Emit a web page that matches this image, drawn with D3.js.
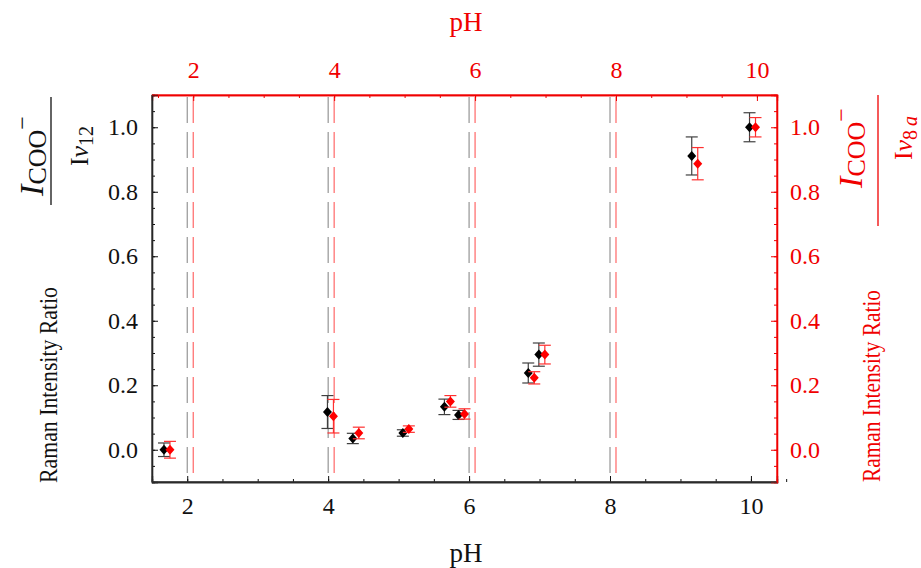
<!DOCTYPE html>
<html>
<head>
<meta charset="utf-8">
<script src="https://cdn.jsdelivr.net/npm/d3@7"></script>
<style>
  html, body { margin: 0; padding: 0; background: #fff; }
  svg { display: block; }
  text { font-family: "Liberation Serif", "Times New Roman", Times, serif; }
</style>
</head>
<body>
<svg id="chart" width="921" height="568"></svg>
<script>
// pH of each measured solution
const pH = [1.67, 3.99, 4.35, 5.06, 5.65, 5.85, 6.84, 6.99, 9.16, 9.98];
// I(COO-) / I(nu12) ratio and its uncertainty (black, left axis)
const ratioNu12 = [0.0, 0.117, 0.035, 0.052, 0.133, 0.108, 0.238, 0.295, 0.911, 1.0];
const errNu12   = [0.021, 0.051, 0.016, 0.010, 0.024, 0.014, 0.031, 0.036, 0.059, 0.045];
// I(COO-) / I(nu8a) ratio and its uncertainty (red, right axis)
const ratioNu8a = [0.0, 0.104, 0.052, 0.064, 0.150, 0.111, 0.223, 0.295, 0.887, 1.0];
const errNu8a   = [0.026, 0.052, 0.018, 0.010, 0.018, 0.016, 0.019, 0.029, 0.050, 0.030];
// axis ticks
const pHTicks = [2, 4, 6, 8, 10];
const pHMinorTicks = d3.range(1.5, 10.51, 0.5);
const ratioTicks = [0.0, 0.2, 0.4, 0.6, 0.8, 1.0];
const ratioMinorTicks = d3.range(-0.1, 1.101, 0.05);
const dashedPH = [2, 4, 6, 8];

const RED = "#f00000";
const BLACK = "#111";
const SERIF = "'Liberation Serif', 'Times New Roman', Times, serif";

const svg = d3.select("#chart");
const L = 152, R = 777, T = 95, B = 482;

// bottom (black) and top (red) pH scales; the red set is drawn slightly offset
const xB = d3.scaleLinear().domain([1.5, 10.37]).range([L, R]);
const xT = d3.scaleLinear().domain([1.415, 10.285]).range([L, R]);
const y = d3.scaleLinear().domain([-0.1, 1.1]).range([B, T]);

const fmt = d3.format(".1f");

// dashed reference lines
svg.append("g").selectAll("line").data(dashedPH).join("line")
  .attr("x1", d => xB(d)).attr("x2", d => xB(d))
  .attr("y1", T).attr("y2", B)
  .attr("stroke", "#8c8c8c").attr("stroke-width", 1.1)
  .attr("stroke-dasharray", "26,9").attr("stroke-dashoffset", -2);
svg.append("g").selectAll("line").data(dashedPH).join("line")
  .attr("x1", d => xT(d)).attr("x2", d => xT(d))
  .attr("y1", T).attr("y2", B)
  .attr("stroke", "#ff5a5a").attr("stroke-width", 1.1)
  .attr("stroke-dasharray", "26,9").attr("stroke-dashoffset", -2);

function styleAxis(g, color, size) {
  g.attr("font-family", SERIF);
  g.select(".domain").attr("stroke", color).attr("stroke-width", 1.3);
  g.selectAll(".tick line").attr("stroke", color).attr("stroke-width", 1);
  g.selectAll(".tick text").attr("fill", color)
    .style("font-family", SERIF).style("font-size", size + "px");
}

// minor ticks
svg.append("g").attr("transform", `translate(0,${B})`)
  .call(d3.axisBottom(xB).tickValues(pHMinorTicks).tickSize(-3).tickFormat(""))
  .call(g => styleAxis(g, BLACK, 22));
svg.append("g").attr("transform", `translate(0,${T})`)
  .call(d3.axisTop(xT).tickValues(pHMinorTicks.filter(v => v <= 10.25)).tickSize(-3).tickFormat(""))
  .call(g => styleAxis(g, RED, 22));
svg.append("g").attr("transform", `translate(${L},0)`)
  .call(d3.axisLeft(y).tickValues(ratioMinorTicks).tickSize(-3).tickFormat(""))
  .call(g => styleAxis(g, BLACK, 22));
svg.append("g").attr("transform", `translate(${R},0)`)
  .call(d3.axisRight(y).tickValues(ratioMinorTicks).tickSize(-3).tickFormat(""))
  .call(g => styleAxis(g, RED, 22));

// major ticks with labels
svg.append("g").attr("transform", `translate(0,${B})`)
  .call(d3.axisBottom(xB).tickValues(pHTicks).tickSize(-6).tickPadding(15).tickFormat(d3.format("d")))
  .call(g => styleAxis(g, BLACK, 24));
svg.append("g").attr("transform", `translate(0,${T})`)
  .call(d3.axisTop(xT).tickValues(pHTicks).tickSize(-6).tickPadding(17).tickFormat(d3.format("d")))
  .call(g => styleAxis(g, RED, 24));
svg.append("g").attr("transform", `translate(${L},0)`)
  .call(d3.axisLeft(y).tickValues(ratioTicks).tickSize(-6).tickPadding(14).tickFormat(fmt))
  .call(g => styleAxis(g, BLACK, 24));
svg.append("g").attr("transform", `translate(${R},0)`)
  .call(d3.axisRight(y).tickValues(ratioTicks).tickSize(-6).tickPadding(13).tickFormat(fmt))
  .call(g => styleAxis(g, RED, 24));

// axis titles
svg.append("text").attr("x", 466).attr("y", 562).attr("text-anchor", "middle")
  .attr("fill", BLACK).style("font-size", "27px").text("pH");
svg.append("text").attr("x", 466).attr("y", 31).attr("text-anchor", "middle")
  .attr("fill", RED).style("font-size", "27px").text("pH");

// rotated y titles: "Raman Intensity Ratio" followed by the stacked fraction
function yTitle(o) {
  const g = svg.append("g").attr("transform", "rotate(-90)").attr("fill", o.color);
  g.append("text").attr("x", -o.start).attr("y", o.base)
    .style("font-size", "25px")
    .attr("textLength", o.len).attr("lengthAdjust", "spacingAndGlyphs")
    .text("Raman Intensity Ratio");
  g.append("line").attr("x1", -o.barFrom).attr("x2", -o.barTo)
    .attr("y1", o.bar).attr("y2", o.bar).attr("stroke", o.color).attr("stroke-width", 1.3);
  const num = g.append("text").attr("x", -o.numMid).attr("y", o.numBase).attr("text-anchor", "middle");
  num.append("tspan").style("font-style", "italic").style("font-size", "34px").text("I");
  num.append("tspan").style("font-size", "26px").attr("dy", 3).text("COO");
  num.append("tspan").style("font-size", "24px").attr("dy", -16).text("\u2212");
  const den = g.append("text").attr("x", -o.denMid).attr("y", o.denBase).attr("text-anchor", "middle");
  den.append("tspan").style("font-size", "26px").text("I");
  den.append("tspan").style("font-style", "italic").style("font-size", "26px").text("\u03bd");
  den.append("tspan").style("font-size", "20px").attr("dy", 5).text(o.sub);
  if (o.subIt) den.append("tspan").style("font-size", "20px").style("font-style", "italic").text(o.subIt);
}
yTitle({ color: BLACK, start: 483, len: 196, base: 57, barFrom: 205, barTo: 97, bar: 51,
         numMid: 156, numBase: 43, denMid: 146, denBase: 88, sub: "12" });
yTitle({ color: RED, start: 482, len: 192, base: 880, barFrom: 226, barTo: 95, bar: 878,
         numMid: 148, numBase: 862, denMid: 138, denBase: 912, sub: "8\u2009", subIt: "a" });

// frame edges drawn last so they sit above the dashed lines
svg.append("line").attr("x1", L).attr("x2", R).attr("y1", B).attr("y2", B).attr("stroke", "#333").attr("stroke-width", 1.3);
svg.append("line").attr("x1", L).attr("x2", L).attr("y1", T).attr("y2", B).attr("stroke", "#333").attr("stroke-width", 1.3);
svg.append("line").attr("x1", L).attr("x2", R).attr("y1", T).attr("y2", T).attr("stroke", RED).attr("stroke-width", 1.1);
svg.append("line").attr("x1", R).attr("x2", R).attr("y1", T).attr("y2", B).attr("stroke", RED).attr("stroke-width", 1.3);

// error bars and diamond markers
const diamond = (w, h) => `M0,${-h}L${w},0L0,${h}L${-w},0Z`;
function series(xs, vals, errs, color, barColor) {
  const g = svg.append("g");
  const data = xs.map((p, i) => ({ p, v: vals[i], e: errs[i] }));
  const cap = 6;
  const eb = g.selectAll("g.eb").data(data).join("g").attr("class", "eb");
  eb.append("line").attr("x1", d => xs.scale(d.p)).attr("x2", d => xs.scale(d.p))
    .attr("y1", d => y(d.v - d.e)).attr("y2", d => y(d.v + d.e))
    .attr("stroke", barColor).attr("stroke-width", 1.2);
  eb.append("line").attr("x1", d => xs.scale(d.p) - cap).attr("x2", d => xs.scale(d.p) + cap)
    .attr("y1", d => y(d.v + d.e)).attr("y2", d => y(d.v + d.e))
    .attr("stroke", barColor).attr("stroke-width", 1.2);
  eb.append("line").attr("x1", d => xs.scale(d.p) - cap).attr("x2", d => xs.scale(d.p) + cap)
    .attr("y1", d => y(d.v - d.e)).attr("y2", d => y(d.v - d.e))
    .attr("stroke", barColor).attr("stroke-width", 1.2);
  g.selectAll("path").data(data).join("path")
    .attr("transform", d => `translate(${xs.scale(d.p)},${y(d.v)})`)
    .attr("d", diamond(4.5, 5)).attr("fill", color);
}
const bottomPH = pH.slice(); bottomPH.scale = xB;
const topPH = pH.slice(); topPH.scale = xT;
series(bottomPH, ratioNu12, errNu12, "#000", "#404040");
series(topPH, ratioNu8a, errNu8a, "#ff0000", "#ff3030");
</script>
</body>
</html>
